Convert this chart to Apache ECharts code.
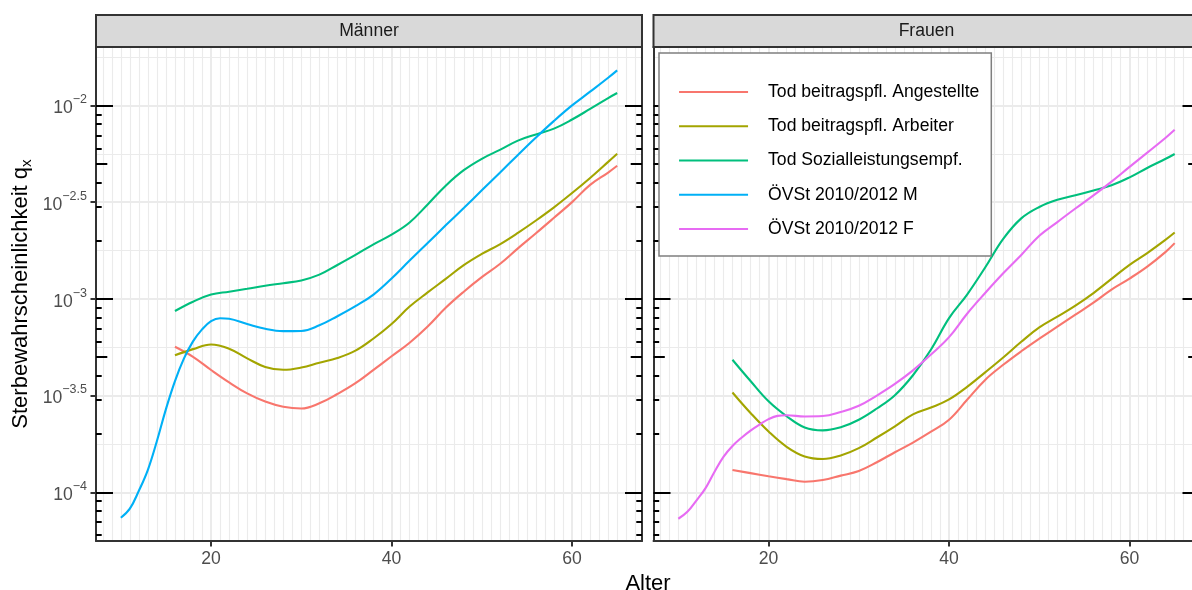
<!DOCTYPE html>
<html><head><meta charset="utf-8">
<script src="https://cdn.jsdelivr.net/npm/echarts@6/dist/echarts.min.js"></script>
<style>html,body{margin:0;padding:0;background:#fff}#c{width:1192px;height:590px}</style>
</head><body><div id="c"></div>
<script>
const FONT = '"Liberation Sans", Arial, Helvetica, sans-serif';

// ---- data (values are log10 of the death probability q_x) ----
const panels = ['Männer', 'Frauen'];
const seriesNames = ['Tod beitragspfl. Angestellte', 'Tod beitragspfl. Arbeiter', 'Tod Sozialleistungsempf.', 'ÖVSt 2010/2012 M', 'ÖVSt 2010/2012 F'];
const colors = ['#F8766D', '#A3A500', '#00BF7D', '#00B0F6', '#E76BF3'];

const ages16 = [16,18,20,22,24,26,28,30,32,34,36,38,40,42,44,46,48,50,52,54,56,58,60,62,64,65];
const agesOV = [10,11,12,13,14,15,16,17,18,19,20,21,22,24,26,28,30,32,34,36,38,40,42,44,46,48,50,52,54,56,58,60,62,64,65];

// Männer
const m_angestellte = [-3.248,-3.300,-3.368,-3.432,-3.489,-3.531,-3.558,-3.567,-3.540,-3.492,-3.436,-3.367,-3.297,-3.227,-3.143,-3.046,-2.963,-2.888,-2.820,-2.739,-2.661,-2.581,-2.500,-2.411,-2.347,-2.312];
const m_arbeiter    = [-3.292,-3.260,-3.236,-3.258,-3.308,-3.352,-3.367,-3.355,-3.330,-3.306,-3.268,-3.205,-3.130,-3.040,-2.967,-2.897,-2.826,-2.768,-2.718,-2.659,-2.595,-2.527,-2.453,-2.375,-2.292,-2.250];
const m_sozial      = [-3.063,-3.015,-2.978,-2.963,-2.948,-2.932,-2.919,-2.905,-2.875,-2.825,-2.773,-2.718,-2.668,-2.605,-2.512,-2.415,-2.335,-2.276,-2.230,-2.182,-2.150,-2.120,-2.073,-2.018,-1.962,-1.936];
const m_oevst       = [-4.132,-4.085,-3.992,-3.884,-3.735,-3.570,-3.425,-3.308,-3.220,-3.158,-3.115,-3.100,-3.103,-3.130,-3.155,-3.167,-3.166,-3.137,-3.090,-3.038,-2.978,-2.895,-2.802,-2.711,-2.620,-2.530,-2.439,-2.348,-2.256,-2.166,-2.080,-2.000,-1.929,-1.857,-1.819];
// Frauen
const f_angestellte = [-3.885,-3.901,-3.917,-3.932,-3.946,-3.937,-3.914,-3.890,-3.845,-3.793,-3.743,-3.687,-3.625,-3.522,-3.419,-3.341,-3.271,-3.206,-3.144,-3.082,-3.020,-2.952,-2.895,-2.832,-2.757,-2.712];
const f_arbeiter    = [-3.484,-3.590,-3.686,-3.765,-3.815,-3.828,-3.810,-3.772,-3.717,-3.659,-3.597,-3.562,-3.520,-3.455,-3.380,-3.303,-3.222,-3.148,-3.092,-3.035,-2.970,-2.897,-2.824,-2.762,-2.694,-2.657];
const f_sozial      = [-3.315,-3.425,-3.530,-3.607,-3.665,-3.680,-3.664,-3.625,-3.567,-3.498,-3.395,-3.262,-3.100,-2.978,-2.838,-2.690,-2.584,-2.525,-2.488,-2.465,-2.440,-2.413,-2.372,-2.322,-2.276,-2.251];
const f_oevst       = [-4.137,-4.101,-4.043,-3.980,-3.895,-3.817,-3.761,-3.718,-3.681,-3.650,-3.622,-3.605,-3.602,-3.608,-3.606,-3.585,-3.553,-3.500,-3.440,-3.370,-3.288,-3.198,-3.077,-2.970,-2.868,-2.773,-2.674,-2.603,-2.533,-2.465,-2.394,-2.318,-2.243,-2.167,-2.126];

// axis breaks
const xTicks = [20, 40, 60];
const xMinor = []; for (let a = 8; a <= 67; a++) if (!xTicks.includes(a)) xMinor.push(a);
const yTicks = [-4, -3.5, -3, -2.5, -2];
const yMinor = [-3.75, -3.25, -2.75, -2.25, -1.75];
const X_MIN = 7.25, X_MAX = 67.75;
const Y_MIN = -4.252, Y_MAX = -1.698;

// log ticks (annotation_logticks)
const logLong = [-4, -3, -2];
const logMid = [], logShort = [];
for (let k = -5; k <= -2; k++) {
  for (let m = 2; m <= 9; m++) {
    const v = Math.log10(m) + k;
    if (v > Y_MIN + 0.003 && v < Y_MAX - 0.003) (m === 5 ? logMid : logShort).push(v);
  }
}

const panelData = [
  [[ages16, m_angestellte, 0], [ages16, m_arbeiter, 1], [ages16, m_sozial, 2], [agesOV, m_oevst, 3]],
  [[ages16, f_angestellte, 0], [ages16, f_arbeiter, 1], [ages16, f_sozial, 2], [agesOV, f_oevst, 4]]
];

// ---- layout ----
const gridLeft = [96, 653.5], gridTop = 47, gridW = 546, gridH = 494;
const grids = gridLeft.map(l => ({ left: l, top: gridTop, width: gridW, height: gridH, outerBoundsMode: 'none', containLabel: false }));

const xAxes = [], yAxes = [], series = [];
const minus = '\u2212';
function fmtExp(v) { return minus + String(Math.round(-v * 10) / 10); }

function baseY(g, pos, extra) {
  return Object.assign({
    type: 'value', gridIndex: g, min: Y_MIN, max: Y_MAX, position: pos,
    axisLine: { show: false, onZero: false }, axisTick: { show: false },
    axisLabel: { show: false }, splitLine: { show: false }
  }, extra);
}
function logTickAxis(g, pos, vals, len) {
  return baseY(g, pos, { z: 4, axisTick: { show: true, inside: true, length: len, customValues: vals, lineStyle: { color: '#000', width: 2 } } });
}

for (let g = 0; g < 2; g++) {
  const xi = xAxes.length;
  xAxes.push({
    type: 'value', gridIndex: g, min: X_MIN, max: X_MAX, position: 'bottom', z: 1,
    axisLine: { show: true, onZero: false, lineStyle: { color: '#333', width: 2 } },
    axisTick: { show: true, customValues: xTicks, length: 5.5, lineStyle: { color: '#333', width: 2 } },
    axisLabel: { show: true, customValues: xTicks, margin: 9, color: '#4D4D4D', fontSize: 17.6, fontFamily: FONT },
    splitLine: { show: true, lineStyle: { color: '#EBEBEB', width: 2 } }
  });
  xAxes.push({
    type: 'value', gridIndex: g, min: X_MIN, max: X_MAX, position: 'top', z: 4,
    axisLine: { show: true, onZero: false, lineStyle: { color: '#333', width: 2 } },
    axisTick: { show: false }, axisLabel: { show: false }, splitLine: { show: false }
  });
  xAxes.push({
    type: 'value', gridIndex: g, min: X_MIN, max: X_MAX, position: 'bottom', z: 0,
    axisLine: { show: false, onZero: false },
    axisTick: { show: false, customValues: xMinor }, axisLabel: { show: false },
    splitLine: { show: true, lineStyle: { color: '#EBEBEB', width: 1.1 } }
  });

  const yi = yAxes.length;
  yAxes.push(baseY(g, 'left', {
    z: 1,
    axisLine: { show: true, onZero: false, lineStyle: { color: '#333', width: 2 } },
    axisTick: { show: g === 0, customValues: yTicks, length: 5.5, lineStyle: { color: '#333', width: 2 } },
    axisLabel: {
      show: g === 0, customValues: yTicks, margin: 9,
      formatter: v => '{b|10}{s|' + fmtExp(v) + '}',
      rich: {
        b: { fontSize: 17.6, color: '#4D4D4D', fontFamily: FONT, lineHeight: 24, verticalAlign: 'bottom' },
        s: { fontSize: 12.5, color: '#4D4D4D', fontFamily: FONT, lineHeight: 14, verticalAlign: 'top' }
      }
    },
    splitLine: { show: true, lineStyle: { color: '#EBEBEB', width: 2 } }
  }));
  yAxes.push(baseY(g, 'right', {
    z: 4,
    axisLine: { show: true, onZero: false, lineStyle: { color: '#333', width: 2 } },
    axisTick: { show: true, inside: true, length: 17, customValues: logLong, lineStyle: { color: '#000', width: 2 } }
  }));
  yAxes.push(logTickAxis(g, 'left', logLong, 17));
  yAxes.push(logTickAxis(g, 'left', logMid, 11.3));
  yAxes.push(logTickAxis(g, 'left', logShort, 5.7));
  yAxes.push(logTickAxis(g, 'right', logMid, 11.3));
  yAxes.push(logTickAxis(g, 'right', logShort, 5.7));
  yAxes.push(baseY(g, 'left', {
    z: 0, axisTick: { show: false, customValues: yMinor },
    splitLine: { show: true, lineStyle: { color: '#EBEBEB', width: 1.1 } }
  }));

  panelData[g].forEach(([ages, vals, si]) => {
    series.push({
      name: seriesNames[si], type: 'line', xAxisIndex: xi, yAxisIndex: yi,
      data: ages.map((a, i) => [a, vals[i]]),
      smooth: 0.4, symbol: 'none', showSymbol: false, z: 2,
      lineStyle: { color: colors[si], width: 2.1 }, itemStyle: { color: colors[si] },
      emphasis: { disabled: true }
    });
  });
}

const graphic = [];
panels.forEach((p, g) => {
  graphic.push({ type: 'rect', z: 10, shape: { x: gridLeft[g], y: 15, width: gridW, height: 32 },
    style: { fill: '#D9D9D9', stroke: '#333', lineWidth: 2 } });
  graphic.push({ type: 'text', z: 11, x: gridLeft[g] + gridW / 2, y: 31,
    style: { text: p, font: '17.6px ' + FONT, fill: '#1A1A1A', textAlign: 'center', textVerticalAlign: 'middle' } });
});
graphic.push({ type: 'text', z: 11, x: 648, y: 584,
  style: { text: 'Alter', font: '22px ' + FONT, fill: '#000', textAlign: 'center', textVerticalAlign: 'middle' } });
graphic.push({ type: 'text', z: 11, x: 22, y: 294, rotation: Math.PI / 2,
  style: {
    text: '{a|Sterbewahrscheinlichkeit q}{s|x}', textAlign: 'center', textVerticalAlign: 'middle',
    rich: {
      a: { fontSize: 22, fontFamily: FONT, fill: '#000', lineHeight: 24, verticalAlign: 'top' },
      s: { fontSize: 15.4, fontFamily: FONT, fill: '#000', lineHeight: 16, verticalAlign: 'bottom' }
    }
  } });

const chart = echarts.init(document.getElementById('c'), null, { renderer: 'canvas' });
chart.setOption({
  animation: false,
  backgroundColor: '#fff',
  textStyle: { fontFamily: FONT },
  grid: grids,
  xAxis: xAxes,
  yAxis: yAxes,
  series: series,
  legend: {
    data: seriesNames, orient: 'vertical', left: 659, top: 53, z: 8,
    padding: [29, 12, 17, 19], itemWidth: 69, itemHeight: 20, itemGap: 14.25,
    backgroundColor: '#fff', borderColor: '#7F7F7F', borderWidth: 1.5,
    itemStyle: { opacity: 0 },
    lineStyle: { width: 2.1 },
    textStyle: { fontSize: 17.6, color: '#000', fontFamily: FONT, lineHeight: 20, padding: [0, 0, 0, 15] },
    selectedMode: false
  },
  graphic: graphic
});
</script></body></html>
